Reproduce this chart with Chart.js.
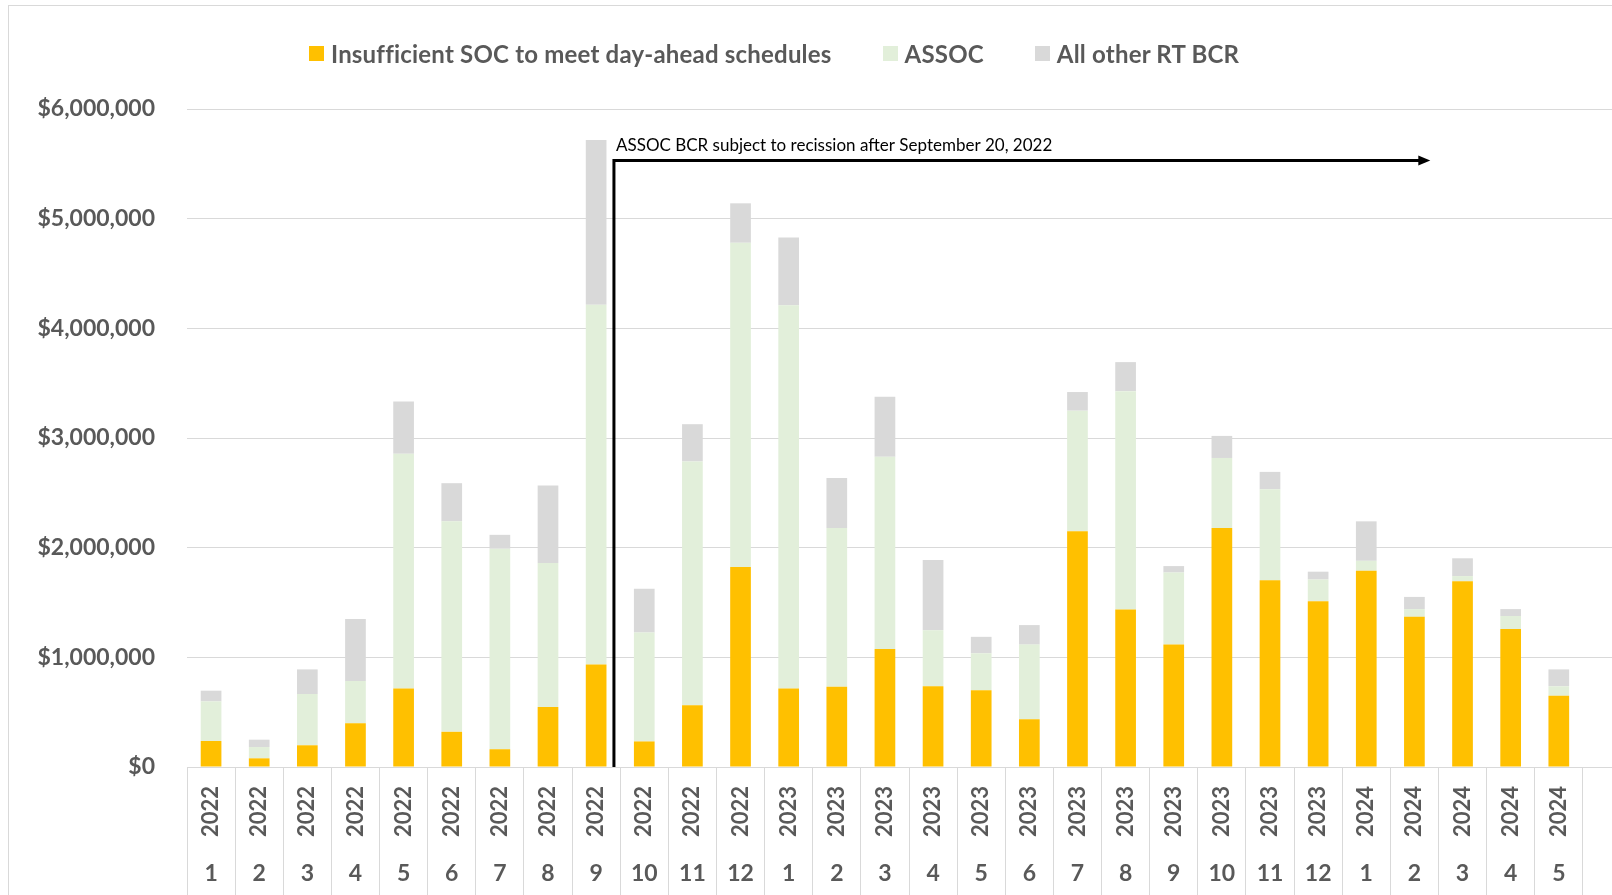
<!DOCTYPE html>
<html>
<head>
<meta charset="utf-8">
<title>Real-time BCR by category</title>
<script src="https://cdn.jsdelivr.net/npm/chart.js@4.4.1/dist/chart.umd.min.js"></script>
<style>
    html, body { margin: 0; padding: 0; background: #fff; overflow: hidden; }
    #wrap { position: relative; width: 1612px; height: 895px; overflow: hidden; }
    #frame { position: absolute; left: 8px; top: 5px; width: 1700px; height: 1000px;
             border-left: 1px solid #d9d9d9; border-top: 1px solid #d9d9d9; }
    #bcrChart { position: absolute; left: 0; top: 0; }
    #legend { position: absolute; left: 309px; top: 39px; display: flex;
              font-family: Lato, sans-serif; font-weight: bold; font-size: 24px;
              letter-spacing: 0.2px; color: #595959; }
    .legend-item { display: flex; align-items: center; margin-right: 51px; white-space: nowrap; }
    .legend-box { width: 15px; height: 15px; margin-right: 7px; }
</style>
</head>
<body>
<div id="wrap">
    <div id="frame"></div>
    <canvas id="bcrChart" width="1640" height="895"></canvas>
    <div id="legend"></div>
</div>
<script>
// category labels (year over month)
const years = ['2022', '2022', '2022', '2022', '2022', '2022', '2022', '2022', '2022', '2022', '2022', '2022',
               '2023', '2023', '2023', '2023', '2023', '2023', '2023', '2023', '2023', '2023', '2023', '2023',
               '2024', '2024', '2024', '2024', '2024'];
const months = ['1', '2', '3', '4', '5', '6', '7', '8', '9', '10', '11', '12',
                '1', '2', '3', '4', '5', '6', '7', '8', '9', '10', '11', '12',
                '1', '2', '3', '4', '5'];

// monthly BCR amounts, $
const socShortfall = [237000, 79000, 198000, 400000, 716000, 321000, 162000, 546000, 934000, 233000, 562000, 1824000,
                      716000, 732000, 1076000, 736000, 700000, 435000, 2149000, 1436000, 1116000, 2180000, 1702000, 1512000,
                      1789000, 1369000, 1694000, 1258000, 649000];
const assoc = [361000, 103000, 467000, 384000, 2141000, 1919000, 1828000, 1314000, 3280000, 994000, 2224000, 2956000,
               3495000, 1448000, 1753000, 511000, 337000, 681000, 1100000, 1991000, 657000, 638000, 831000, 198000,
               91000, 71000, 47000, 119000, 87000];
const otherRtBcr = [98000, 67000, 225000, 565000, 475000, 348000, 127000, 708000, 1504000, 399000, 340000, 360000,
                    617000, 456000, 547000, 641000, 150000, 178000, 170000, 265000, 59000, 201000, 158000, 71000,
                    360000, 111000, 162000, 63000, 154000];

// annotation: start / end in category units, level in $
const noteText = 'ASSOC BCR subject to recission after September 20, 2022';
const noteStart = 8.37;
const noteEnd = 25.33;
const noteLevel = 5530000;

Chart.defaults.font.family = 'Lato, sans-serif';
Chart.defaults.color = '#595959';

// an empty slot on the right so the plot runs past the picture edge
const yearLabels = years.concat(['']);
const monthLabels = months.concat(['']);

const arrowNote = {
    id: 'arrowNote',
    afterDatasetsDraw(chart) {
        const { ctx, scales: { x, y } } = chart;
        const base = x.getPixelForValue(0);
        const step = x.getPixelForValue(1) - base;
        const x0 = base + noteStart * step;
        const x1 = base + noteEnd * step;
        const yTop = y.getPixelForValue(noteLevel);
        const yBottom = y.getPixelForValue(0);

        ctx.save();
        ctx.strokeStyle = '#000';
        ctx.fillStyle = '#000';
        ctx.lineWidth = 3;
        ctx.beginPath();
        ctx.moveTo(x0, yBottom);
        ctx.lineTo(x0, yTop);
        ctx.lineTo(x1 - 8, yTop);
        ctx.stroke();

        ctx.beginPath();
        ctx.moveTo(x1, yTop);
        ctx.lineTo(x1 - 12, yTop - 5);
        ctx.lineTo(x1 - 12, yTop + 5);
        ctx.closePath();
        ctx.fill();

        ctx.font = '17px Lato, sans-serif';
        ctx.textBaseline = 'alphabetic';
        ctx.fillText(noteText, x0 + 2, yTop - 10);
        ctx.restore();
    }
};

const ctx = document.getElementById('bcrChart').getContext('2d');

const chart = new Chart(ctx, {
    type: 'bar',
    data: {
        labels: yearLabels,
        datasets: [{
            label: 'Insufficient SOC to meet day-ahead schedules',
            data: socShortfall,
            backgroundColor: '#ffc000'
        }, {
            label: 'ASSOC',
            data: assoc,
            backgroundColor: '#e2efda'
        }, {
            label: 'All other RT BCR',
            data: otherRtBcr,
            backgroundColor: '#d9d9d9'
        }]
    },
    options: {
        responsive: false,
        animation: false,
        layout: {
            padding: { top: 109, right: 9, bottom: 0, left: 0 }
        },
        datasets: {
            bar: {
                barPercentage: 0.43,
                categoryPercentage: 1.0,
                borderWidth: 0
            }
        },
        plugins: {
            legend: { display: false },
            tooltip: {
                callbacks: {
                    label: function(context) {
                        return context.dataset.label + ': $' + context.raw.toLocaleString('en-US');
                    }
                }
            }
        },
        scales: {
            x: {
                stacked: true,
                offset: true,
                weight: 0,
                grid: {
                    offset: true,
                    drawOnChartArea: false,
                    drawTicks: true,
                    tickLength: 80,
                    color: '#d9d9d9'
                },
                border: { display: true, color: '#d9d9d9' },
                ticks: {
                    autoSkip: false,
                    minRotation: 90,
                    maxRotation: 90,
                    padding: -61,
                    font: { size: 22, weight: 'bold' },
                    color: '#595959'
                },
                afterFit: function(scale) { scale.height = 80; }
            },
            x2: {
                type: 'category',
                position: 'bottom',
                labels: monthLabels,
                offset: true,
                weight: 1,
                grid: {
                    offset: true,
                    drawOnChartArea: false,
                    drawTicks: true,
                    tickLength: 48,
                    color: '#d9d9d9'
                },
                border: { display: false },
                ticks: {
                    autoSkip: false,
                    maxRotation: 0,
                    padding: -35,
                    font: { size: 23, weight: 'bold' },
                    color: '#595959'
                },
                afterFit: function(scale) { scale.height = 48; }
            },
            y: {
                stacked: true,
                min: 0,
                max: 6000000,
                grid: { color: '#d9d9d9', drawTicks: false },
                border: { display: false },
                ticks: {
                    stepSize: 1000000,
                    padding: 32,
                    font: { size: 23, weight: 'bold' },
                    color: '#595959',
                    callback: function(value) {
                        return '$' + value.toLocaleString('en-US');
                    }
                },
                afterFit: function(scale) { scale.width = 187; }
            }
        }
    },
    plugins: [arrowNote]
});

// legend built from the datasets
const legend = document.getElementById('legend');
chart.data.datasets.forEach(ds => {
    const item = document.createElement('div');
    item.className = 'legend-item';
    const box = document.createElement('span');
    box.className = 'legend-box';
    box.style.background = ds.backgroundColor;
    const text = document.createElement('span');
    text.textContent = ds.label;
    item.appendChild(box);
    item.appendChild(text);
    legend.appendChild(item);
});
</script>
</body>
</html>
